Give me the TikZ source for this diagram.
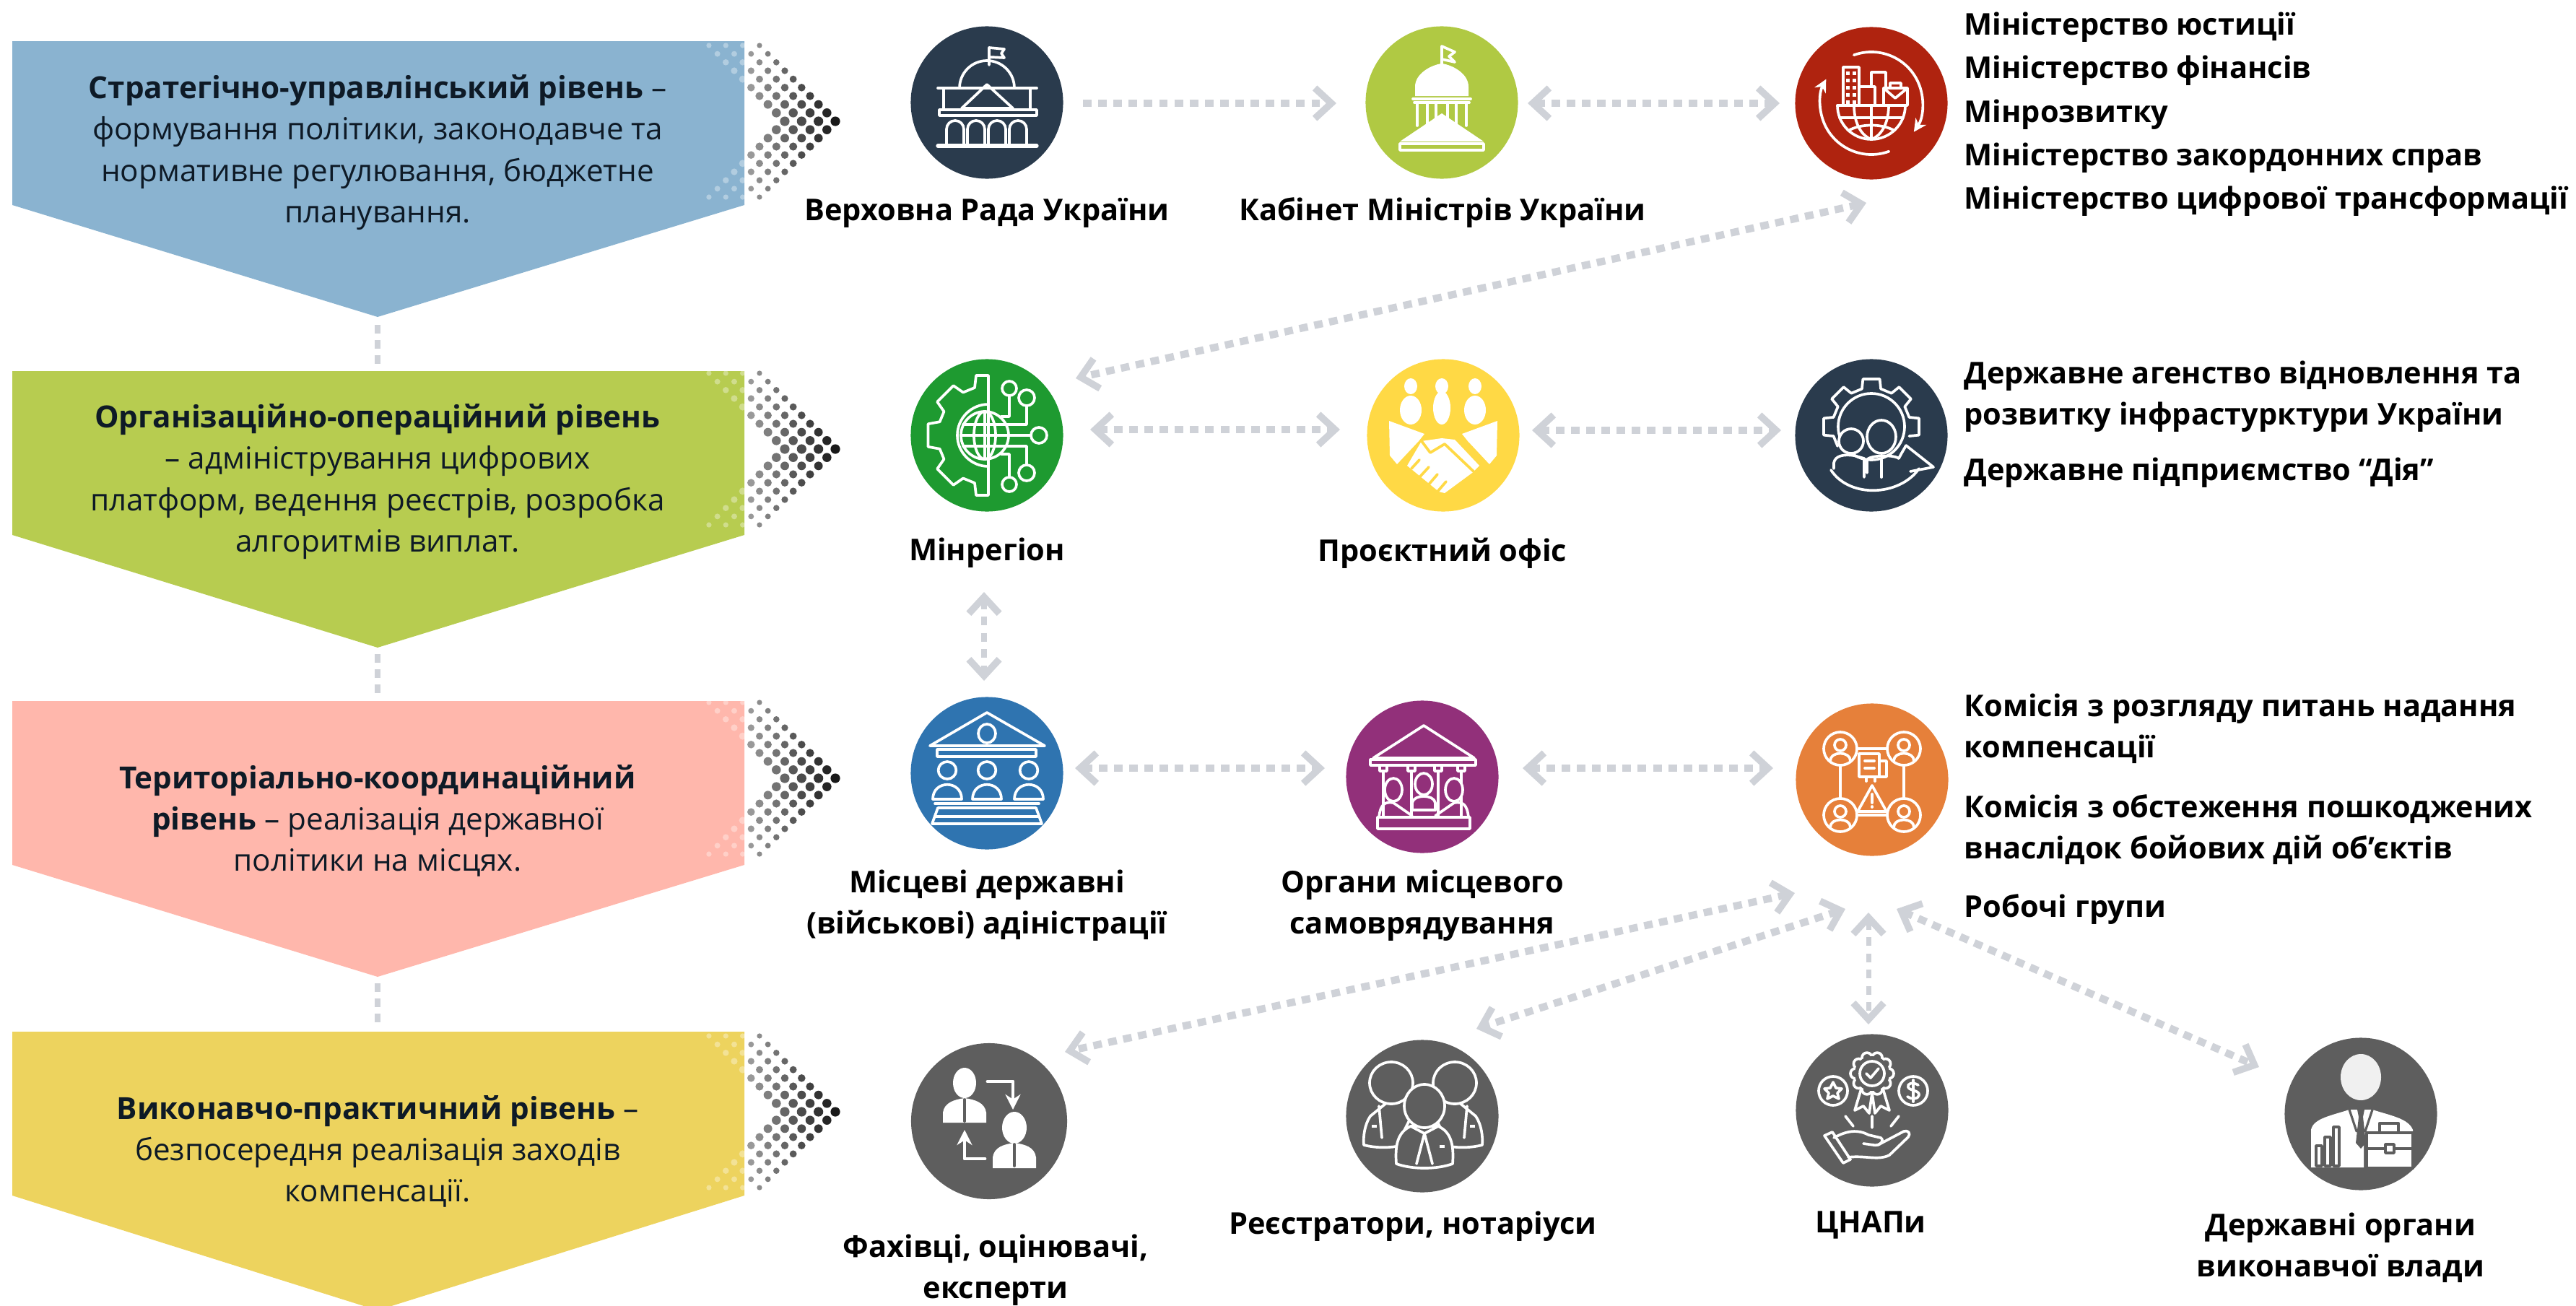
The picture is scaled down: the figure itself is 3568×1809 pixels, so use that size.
\documentclass[tikz,border=0pt]{standalone}
\usepackage{fontspec}
\setmainfont{Open Sans}
\usetikzlibrary{arrows.meta,calc}
\definecolor{pblue}{HTML}{8AB3D0}
\definecolor{pgreen}{HTML}{B7CC50}
\definecolor{ppink}{HTML}{FFB7AC}
\definecolor{pyellow}{HTML}{EDD35E}
\definecolor{cdark}{HTML}{2A3B4D}
\definecolor{clime}{HTML}{B0C943}
\definecolor{cred}{HTML}{AF230F}
\definecolor{cgreen}{HTML}{1E9A30}
\definecolor{cyel}{HTML}{FFD945}
\definecolor{cblue}{HTML}{2F74B0}
\definecolor{cpurp}{HTML}{92307A}
\definecolor{corng}{HTML}{E6803A}
\definecolor{cgray}{HTML}{5E5E5E}
\definecolor{arrowc}{HTML}{CFD2D8}
\definecolor{ink}{HTML}{0E1A26}
\tikzset{
  disc/.style={circle,inner sep=0pt,minimum size=2.11cm},
  icon/.style={color=white,line width=1.05pt,line join=round,line cap=round},
  barb/.tip={Straight Barb[length=6.5pt,width=12pt,line width=2.7pt]},
  conn/.style={draw=arrowc,line width=2.9pt,dash pattern=on 3.4pt off 2.6pt},
  one/.style={conn,-{barb}},
  two/.style={conn,{barb}-{barb}},
  vtwo/.style={draw=arrowc,line width=2pt,dash pattern=on 3.4pt off 3pt,{barb}-{barb}},
  vlink/.style={draw=arrowc,line width=2pt,dash pattern=on 3.4pt off 2.6pt},
  paneltext/.style={align=center,inner sep=0pt,text=ink,font=\fontsize{12}{16.3}\selectfont},
  lab/.style={align=center,inner sep=0pt,text=black,font=\fontsize{11.8}{16.1}\selectfont\bfseries},
  side/.style={align=left,anchor=west,inner sep=0pt,text=black,font=\fontsize{11.8}{16.1}\selectfont\bfseries},
}
\newcommand\person[3]{% x, y of head, scale of body
  \draw (#1,#2) ellipse [x radius=#3*0.62,y radius=#3*0.6];
  \draw (#1-#3,#2+#3*2.0) .. controls (#1-#3,#2+#3*0.65) and (#1+#3,#2+#3*0.65) .. (#1+#3,#2+#3*2.0) -- cycle;
}
\begin{document}
\begin{tikzpicture}[x=0.01cm,y=-0.01cm]
\useasboundingbox (0,0) rectangle (3568,1809);
\clip (0,0) rectangle (3568,1809);
% panels
\fill[pblue] (17,57)--(1031,57)--(1031,284)--(523,439)--(17,284)--cycle;
\fill[pgreen] (17,514)--(1031,514)--(1031,741)--(523,897)--(17,741)--cycle;
\fill[ppink] (17,971)--(1031,971)--(1031,1198)--(523,1353)--(17,1198)--cycle;
\fill[pyellow] (17,1429)--(1031,1429)--(1031,1656)--(523,1815)--(17,1656)--cycle;
% dotted chevrons
\foreach \tip in {168,622,1078,1540}{
 \foreach \l in {-9,...,9}{
  \foreach \d in {0,2,4,6}{
   \pgfmathtruncatemacro\aL{abs(\l)}
   \pgfmathtruncatemacro\k{\aL+\d}
   \pgfmathsetmacro\dx{1157-11.67*\k}
   \pgfmathsetmacro\dy{\tip+11.67*\l}
   \pgfmathsetmacro\dr{6.6-0.33*\aL}
   \pgfmathtruncatemacro\pc{90-5*\k}
   \ifnum\k>10
     \fill[white,opacity=.35] (\dx,\dy) circle (\dr);
   \else
     \fill[black!\pc] (\dx,\dy) circle (\dr);
   \fi
  }}}
% panel texts
\node[paneltext] (t1) at (523,211) {\textbf{Стратегічно-управлінський рівень} –\\формування політики, законодавче та\\нормативне регулювання, бюджетне\\планування.};
\node[paneltext] (t2) at (523,667) {\textbf{Організаційно-операційний рівень}\\– адміністрування цифрових\\платформ, ведення реєстрів, розробка\\алгоритмів виплат.};
\node[paneltext] (t3) at (523,1137) {\textbf{Територіально-координаційний}\\\textbf{рівень} – реалізація державної\\політики на місцях.};
\node[paneltext] (t4) at (523,1595) {\textbf{Виконавчо-практичний рівень} –\\безпосередня реалізація заходів\\компенсації.};
% between panels
\coordinate (g1a) at (523,450); \coordinate (g1b) at (523,508);
\coordinate (g2a) at (523,906); \coordinate (g2b) at (523,965);
\coordinate (g3a) at (523,1362); \coordinate (g3b) at (523,1423);
\draw[vlink] (g1a)--(g1b); \draw[vlink] (g2a)--(g2b); \draw[vlink] (g3a)--(g3b);
% discs
\node[disc,fill=cdark] (c1) at (1367,142) {};
\node[disc,fill=clime] (c2) at (1997,142) {};
\node[disc,fill=cred] (c3) at (2592,143) {};
\node[disc,fill=cgreen] (c4) at (1367,603) {};
\node[disc,fill=cyel] (c5) at (1999,603) {};
\node[disc,fill=cdark] (c6) at (2592,603) {};
\node[disc,fill=cblue] (c7) at (1367,1071) {};
\node[disc,fill=cpurp] (c8) at (1970,1076) {};
\node[disc,fill=corng] (c9) at (2593,1080) {};
\node[disc,fill=cgray,minimum size=2.16cm] (c10) at (1370,1553) {};
\node[disc,fill=cgray] (c11) at (1970,1546) {};
\node[disc,fill=cgray] (c12) at (2593,1538) {};
\node[disc,fill=cgray] (c13) at (3270,1543) {};
% icon 1 parliament
\begin{scope}[shift={(c1.center)},icon]
\draw (3,-52)--(3,-76)--(24,-74)--(20,-68)--(24,-62)--(3,-63);
\draw (-38,-20) arc[start angle=180,end angle=360,radius=38];
\draw (-68,-20)--(69,-20);
\draw (-60,-20)--(-60,10) (60,-20)--(60,10);
\draw (0,-25)--(-35,8)--(36,8)--cycle;
\draw (-66,10) rectangle (69,18);
\foreach \a in {-58,-29,0,29}{\draw (\a+2,58)--(\a+2,37) arc[start angle=180,end angle=360,radius=12]--(\a+26,58);}
\draw[line width=1.5pt] (-68,60)--(69,60);
\end{scope}
% icon 2 dome
\begin{scope}[shift={(c2.center)},icon]
\draw (0,-52)--(0,-78)--(18,-70)--(10,-64)--(18,-56)--(0,-60);
\fill (-37,-9)--(-37,-22) .. controls (-37,-40) and (-15,-52) .. (0,-54) .. controls (15,-52) and (37,-40) .. (37,-22)--(37,-9)--cycle;
\draw (-40,-5)--(40,-5) (-38,0)--(38,0);
\foreach \a in {-34,-20,-8,8,20,34}{\draw (\a,0)--(\a,32);}
\fill (0,15)--(-58,54)--(58,54)--cycle;
\draw (-58,57) rectangle (58,66);
\end{scope}
% icon 3 ministries
\begin{scope}[shift={(c3.center)},icon]
\draw[-{Stealth[length=5pt,width=5pt]}] (250:71) arc[start angle=250,end angle=394,radius=71];
\draw[-{Stealth[length=5pt,width=5pt]}] (70:71) arc[start angle=70,end angle=208,radius=71];
\draw (-39,3)--(-39,-50)--(-17,-50)--(-17,3);
\foreach \w in {-44,-34,-24,-14,-4}{\fill (-35,\w) rectangle (-30,\w+5); \fill (-26,\w) rectangle (-21,\w+5);}
\draw (-17,-23)--(5,-23)--(5,3);
\draw (0,-23)--(0,-43)--(20,-43)--(20,-23);
\draw (17,-21) rectangle (50,3);
\draw (26,-21)--(26,-28)--(41,-28)--(41,-21);
\draw (17,-21)--(33,-7)--(50,-21);
\draw (-47,3)--(47,3);
\draw (-47,3) arc[start angle=180,end angle=0,radius=47];
\draw (-24,3) .. controls (-24,30) and (-12,46) .. (0,50);
\draw (24,3) .. controls (24,30) and (12,46) .. (0,50);
\draw (0,3)--(0,50);
\draw (-44,20)--(44,20);
\draw (-32,38) .. controls (-15,28) and (15,28) .. (32,38);
\end{scope}
% icon 4 gear people
\begin{scope}[shift={(c6.center)},icon]
\begin{scope}[shift={(0,-12)}]
\draw (150:54) \foreach \t in {180,225,270,315,360}{ -- (\t-14:54) -- (\t-10:67) -- (\t+10:67) -- (\t+14:54) };
\draw (0,0) circle (46);
\end{scope}
\draw[fill=cdark] (-28,8) circle (17);
\draw[fill=cdark] (14,2) ellipse [x radius=20,y radius=23];
\draw (-52,46)--(-52,38) .. controls (-50,28) and (-38,26) .. (-24,28) -- (-10,32)--(-10,58);
\draw (-6,52)--(-6,34) .. controls (-4,28) and (30,26) .. (38,32);
\draw (14,34)--(14,58);
\draw (-56,48) .. controls (-30,88) and (40,84) .. (66,46);
\draw (48,14)--(86,44)--(54,50);
\draw (38,32) .. controls (42,24) and (46,18) .. (48,14);
\end{scope}
% icon 5 gear circuit
\begin{scope}[shift={(c4.center)},icon]
\draw (2,-83)--(-15,-83)--(-17,-66) \foreach \t in {225,180,135}{ -- (\t+16:68) -- (\t+11:83) -- (\t-11:83) -- (\t-16:68) } -- (-17,66)--(-15,83)--(2,83)--cycle;
\draw (2,-43) arc[start angle=270,end angle=90,radius=43];
\draw (-3,0) circle (33);
\draw (-3,0) ellipse [x radius=15,y radius=33];
\draw (-3,-33)--(-3,33) (-36,0)--(30,0) (-33,-15)--(27,-15) (-33,15)--(27,15);
\draw (31,-65) circle (10) (55,-52) circle (11) (72,0) circle (11) (55,52) circle (11) (31,68) circle (10);
\draw (31,-55)--(31,-26)--(20,-26);
\draw (55,-41)--(55,-15)--(27,-15);
\draw (61,0)--(30,0);
\draw (55,41)--(55,15)--(27,15);
\draw (31,58)--(31,26)--(20,26);
\end{scope}
% icon 6 handshake
\begin{scope}[shift={(c5.center)},icon]
\foreach \a in {-45,-2,44}{\fill (\a,-68) ellipse [x radius=9,y radius=11];}
\fill (-45,-35) ellipse [x radius=15,y radius=20];
\fill (-2,-38) ellipse [x radius=12,y radius=23];
\fill (44,-35) ellipse [x radius=15,y radius=20];
\fill (-75,-20)--(-26,-2)--(-34,8)--(-64,40)--(-74,28)--cycle;
\fill (75,-20)--(26,-2)--(34,8)--(64,40)--(74,28)--cycle;
\fill (-2,4)--(16,6)--(50,42)--(40,52)--(2,80)--(-6,78)--(-50,42)--(-30,8)--cycle;
\begin{scope}[color=cyel]
\draw (-44,46)--(-33,34) (-32,57)--(-20,44) (-20,68)--(-8,54) (-8,78)--(4,64);
\draw (-30,8)--(-18,24)--(2,12)--(42,50);
\end{scope}
\end{scope}
% icon 7 local admin
\begin{scope}[shift={(c7.center)},icon]
\draw (0,-84)--(-79,-38)--(80,-38)--cycle;
\draw (0,-55) ellipse [x radius=12,y radius=13];
\draw (-69,-33) rectangle (68,-23);
\person{-55}{-4}{20}
\person{0}{-4}{20}
\person{58}{-4}{20}
\draw (-72,42)--(72,42);
\draw (-68,48)--(68,48) (-72,60)--(72,60) (-76,70)--(76,70) (-68,48)--(-76,70) (68,48)--(76,70);
\end{scope}
% icon 8 local gov
\begin{scope}[shift={(c8.center)},icon]
\draw (2,-71)--(-68,-26)--(72,-26)--cycle;
\draw (-72,-24) rectangle (74,-16);
\foreach \a in {-54,-15,22,54}{\draw (\a-5,-16)--(\a+5,-16)--(\a+5,-8)--(\a-5,-8)--cycle (\a,-8)--(\a,54);}
\draw[fill=cpurp] (-40,18) ellipse [x radius=12,y radius=16];
\draw[fill=cpurp] (44,18) ellipse [x radius=12,y radius=16];
\draw[fill=cpurp] (2,10) ellipse [x radius=12,y radius=15];
\draw (-14,46)--(-14,36) .. controls (-12,24) and (16,24) .. (18,36)--(18,46);
\draw (-60,56) .. controls (-58,38) and (-52,34) .. (-40,36)--(-14,54);
\draw (64,56) .. controls (62,38) and (56,34) .. (44,36)--(18,54);
\draw (-14,46)--(18,46);
\draw (-62,56) rectangle (66,72);
\end{scope}
% icon 9 commission
\begin{scope}[shift={(c9.center)},icon]
\foreach \a/\b in {-44/-43,44/-43,-44/49,44/49}{
 \draw (\a,\b) circle (23);
 \draw (\a,\b-5) circle (8);
 \draw (\a-14,\b+17) .. controls (\a-14,\b+3) and (\a+14,\b+3) .. (\a+14,\b+17);
}
\draw (-21,-43)--(21,-43) (-21,49)--(21,49) (-44,-20)--(-44,26) (44,-20)--(44,26);
\draw (-18,-36) rectangle (10,-4);
\draw (10,-26)--(20,-26)--(20,-4)--(10,-4);
\draw (-10,-26)--(3,-26) (-10,-16)--(3,-16);
\draw (-8,-4)--(-8,2) (4,-4)--(4,2);
\draw (0,8)--(-20,44)--(20,44)--cycle;
\draw (0,20)--(0,32) (0,37)--(0,38);
\end{scope}
% icon 10 experts
\begin{scope}[shift={(c10.center)},icon]
\fill (-34,-53) ellipse [x radius=16,y radius=21];
\fill (-64,2)--(-64,-12) .. controls (-62,-26) and (-48,-30) .. (-34,-32) .. controls (-20,-30) and (-6,-26) .. (-4,-12)--(-4,2)--cycle;
\fill (35,9) ellipse [x radius=17,y radius=22];
\fill (5,65)--(5,50) .. controls (7,36) and (20,32) .. (35,30) .. controls (50,32) and (63,36) .. (65,50)--(65,65)--cycle;
\draw[cgray] (-34,-30)--(-34,0) (35,32)--(35,62);
\draw[line width=1.4pt,-{Stealth[length=6pt,width=6pt]}] (-2,-55)--(33,-55)--(33,-16);
\draw[line width=1.4pt,-{Stealth[length=6pt,width=6pt]}] (-6,52)--(-34,52)--(-34,12);
\end{scope}
% icon 11 registrars
\begin{scope}[shift={(c11.center)},icon]
\draw[fill=cgray] (-50,-18)--(-72,0) .. controls (-80,12) and (-82,28) .. (-81,40) .. controls (-65,44) and (-50,44) .. (-36,42)--(-10,-10);
\draw[fill=cgray] (52,-18)--(74,0) .. controls (82,12) and (84,28) .. (83,40) .. controls (67,44) and (52,44) .. (38,42)--(12,-10);
\draw[fill=cgray] (-43,-46) ellipse [x radius=30,y radius=29];
\draw[fill=cgray] (45,-46) ellipse [x radius=30,y radius=29];
\draw[fill=cgray] (-36,66) .. controls (-38,40) and (-34,22) .. (-16,14) -- (22,14) .. controls (40,22) and (44,40) .. (42,66) .. controls (20,74) and (-14,74) .. (-36,66) -- cycle;
\draw[fill=cgray] (3,-14) ellipse [x radius=28,y radius=30];
\draw (3,24)--(-8,66) (3,24)--(14,66) (-16,14)--(3,24)--(22,14);
\draw (-60,-14)--(-56,30) (62,-14)--(58,30);
\fill (-70,12) rectangle (-63,16);
\fill (66,12) rectangle (73,16);
\fill (24,40) rectangle (31,44);
\end{scope}
% icon 12 CNAP
\begin{scope}[shift={(c12.center)},icon]
\foreach \t in {0,36,...,324}{\draw ($(0,-51)+(\t:23)$) circle (7);}
\fill[cgray] (0,-51) circle (24);
\draw (0,-51) circle (17);
\draw (-8,-51)--(-2,-45)--(9,-58);
\draw (-15,-30)--(-24,0)--(-12,-6)--(-4,4)--(0,-24)--(4,4)--(12,-6)--(24,0)--(15,-30);
\draw (-54,-27) circle (20);
\draw (-54,-39)--(-50,-31)--(-42,-30)--(-48,-24)--(-46,-16)--(-54,-20)--(-62,-16)--(-60,-24)--(-66,-30)--(-58,-31)--cycle;
\draw (57,-27) circle (20);
\draw (64,-35) .. controls (56,-40) and (48,-37) .. (50,-32) .. controls (52,-27) and (66,-28) .. (65,-21) .. controls (64,-15) and (54,-15) .. (49,-19);
\draw (57,-42)--(57,-12);
\draw (-37,8)--(-26,22) (0,8)--(0,24) (37,8)--(26,22);
\draw (-66,35)--(-55,30)--(-30,68)--(-40,73)--cycle;
\draw (-53,38) .. controls (-35,28) and (-20,26) .. (-5,34)--(12,38) .. controls (18,42) and (10,50) .. (2,48)--(-12,46);
\draw (8,48)--(44,29) .. controls (50,27) and (54,32) .. (50,37)--(24,62) .. controls (8,70) and (-10,62) .. (-33,65);
\end{scope}
% icon 13 officials
\begin{scope}[shift={(c13.center)},icon]
\fill[white!94!black] (0,-51) ellipse [x radius=28,y radius=32];
\fill (-69,74)--(-69,22) .. controls (-66,6) and (-40,2) .. (-16,-6)--(16,-6) .. controls (40,2) and (66,6) .. (72,22)--(72,30)--(4,30)--(4,74)--cycle;
\fill[cgray] (-5,-6)--(5,-6)--(3,4)--(7,40)--(0,48)--(-7,40)--(-3,4)--cycle;
\draw[cgray,line width=.9pt] (-16,-6)--(-6,24) (16,-6)--(6,24);
\begin{scope}[color=cgray]
\draw (-62,72) rectangle (-54,44);
\draw (-50,72) rectangle (-42,32);
\draw (-38,72) rectangle (-30,18);
\draw[line width=1.3pt] (26,24)--(26,13)--(52,13)--(52,24);
\draw[line width=1.3pt,fill=white] (8,26) rectangle (72,75);
\draw (8,48)--(34,48) (46,48)--(72,48) (34,42) rectangle (46,54);
\end{scope}
\end{scope}
% connectors
\coordinate (a1a) at (1500,143); \coordinate (a1b) at (1851,143);
\coordinate (a2a) at (2116,143); \coordinate (a2b) at (2465,143);
\coordinate (a3a) at (2585,281); \coordinate (a3b) at (1490,524);
\coordinate (a4a) at (1510,595); \coordinate (a4b) at (1856,595);
\coordinate (a5a) at (2122,596); \coordinate (a5b) at (2467,596);
\coordinate (a6a) at (1363,820); \coordinate (a6b) at (1363,943);
\coordinate (a7a) at (1489,1064); \coordinate (a7b) at (1835,1064);
\coordinate (a8a) at (2109,1064); \coordinate (a8b) at (2456,1064);
\coordinate (a9a) at (2486,1237); \coordinate (a9b) at (1475,1457);
\coordinate (a10a) at (2556,1259); \coordinate (a10b) at (2045,1425);
\coordinate (a11a) at (2588,1264); \coordinate (a11b) at (2588,1419);
\coordinate (a12a) at (2627,1259); \coordinate (a12b) at (3129,1478);
\draw[one] (a1a)--(a1b);
\draw[two] (a2a)--(a2b);
\draw[two] (a3a)--(a3b);
\draw[two] (a4a)--(a4b);
\draw[two] (a5a)--(a5b);
\draw[vtwo] (a6a)--(a6b);
\draw[two] (a7a)--(a7b);
\draw[two] (a8a)--(a8b);
\draw[two] (a9a)--(a9b);
\draw[two] (a10a)--(a10b);
\draw[vtwo] (a11a)--(a11b);
\draw[two] (a12a)--(a12b);
% labels
\node[lab] (l1) at (1367,295) {Верховна Рада України};
\node[lab] (l2) at (1998,295) {Кабінет Міністрів України};
\node[lab] (l4) at (1367,766) {Мінрегіон};
\node[lab] (l5) at (1998,766) {Проєктний офіс};
\node[lab] (l7) at (1367,1254) {Місцеві державні\\(військові) адіністрації};
\node[lab] (l8) at (1970,1254) {Органи місцевого\\самоврядування};
\node[lab] (l10) at (1379,1759) {Фахівці, оцінювачі,\\експерти};
\node[lab] (l11) at (1957,1699) {Реєстратори, нотаріуси};
\node[lab] (l12) at (2591,1697) {ЦНАПи};
\node[lab] (l13) at (3242,1728) {Державні органи\\виконавчої влади};
% side lists
\node[side] (s1) at (2720,38) {Міністерство юстиції};
\node[side] (s2) at (2720,98) {Міністерство фінансів};
\node[side] (s3) at (2720,159) {Мінрозвитку};
\node[side] (s4) at (2720,219) {Міністерство закордонних справ};
\node[side] (s5) at (2720,279) {Міністерство цифрової трансформації};
\node[side] (s6) at (2720,549) {Державне агенство відновлення та\\розвитку інфрастурктури України};
\node[side] (s7) at (2720,655) {Державне підприємство “Дія”};
\node[side] (s8) at (2720,1009) {Комісія з розгляду питань надання\\компенсації};
\node[side] (s9) at (2720,1149) {Комісія з обстеження пошкоджених\\внаслідок бойових дій об’єктів};
\node[side] (s10) at (2720,1260) {Робочі групи};
\end{tikzpicture}
\end{document}
